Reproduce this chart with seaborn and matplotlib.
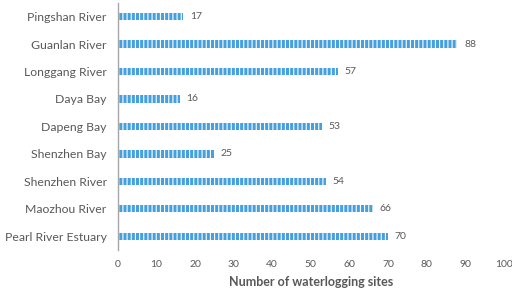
import seaborn as sns
import pandas as pd
import matplotlib.pyplot as plt

sites = ['Pingshan River', 'Guanlan River', 'Longgang River', 'Daya Bay', 'Dapeng Bay',
         'Shenzhen Bay', 'Shenzhen River', 'Maozhou River', 'Pearl River Estuary']
counts = [17, 88, 57, 16, 53, 25, 54, 66, 70]

df = pd.DataFrame({'site': sites, 'count': counts})

sns.set_style('white')
plt.rcParams['font.family'] = ['Lato', 'DejaVu Sans']
plt.rcParams['hatch.color'] = '#a3d0f0'
plt.rcParams['hatch.linewidth'] = 0.8

fig = plt.figure(figsize=(5.12, 2.93), dpi=100)
ax = fig.add_axes([0.23, 0.147, 0.754, 0.843])
sns.barplot(data=df, x='count', y='site', orient='h', color='#45a0e0',
            width=0.27, saturation=1, ax=ax, hatch='||||')
for p in ax.patches:
    p.set_linewidth(0)
for i, v in enumerate(counts):
    ax.text(v + 1.7, i, str(v), va='center', ha='left', fontsize=7.5, color='#595959')

ax.set_xlim(0, 100)
ax.set_ylim(8.5, -0.5)
ax.set_xticks(range(0, 101, 10))
ax.tick_params(axis='x', labelsize=7.5, colors='#595959', length=0, pad=7)
ax.tick_params(axis='y', labelsize=8.8, colors='#595959', length=0, pad=8)
ax.set_ylabel('')
ax.set_xlabel('Number of waterlogging sites', fontsize=9, fontweight='bold', color='#595959', labelpad=5)
for s in ['top', 'right', 'bottom']:
    ax.spines[s].set_visible(False)
ax.spines['left'].set_color('#a6a6a6')
ax.spines['left'].set_linewidth(1)

plt.savefig('out.png', dpi=100)
